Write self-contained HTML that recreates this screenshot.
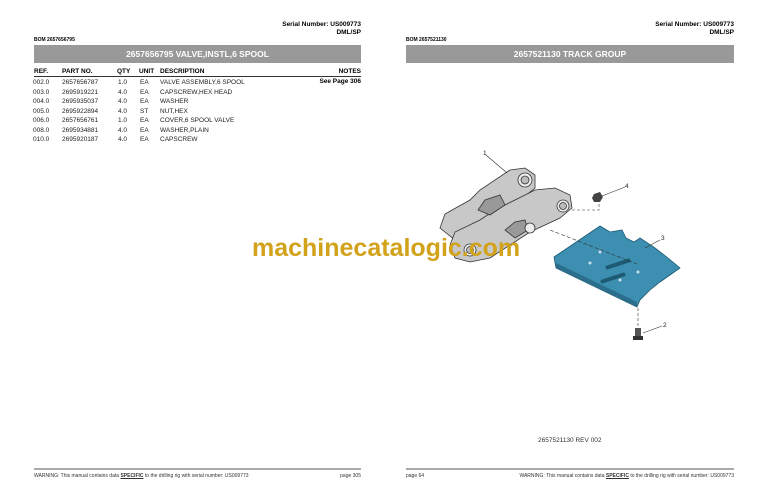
<!DOCTYPE html>
<html><head><style>
body{margin:0;width:768px;height:497px;background:#fff;position:relative;font-family:"Liberation Sans",sans-serif;color:#000;overflow:hidden}
.a{position:absolute;white-space:nowrap}
.bar{position:absolute;background:#999;color:#fff;font-weight:bold;font-size:8.5px;text-align:center;height:18px;line-height:18px;top:45px}
.t{font-size:6.5px}
.r td{font-size:6.5px;color:#222;padding:0;height:9.5px}
</style></head><body>
<div class="a" style="right:407px;top:21px;font-size:6.5px;font-weight:bold;text-align:right;line-height:8px">Serial Number: US009773<br>DML/SP</div>
<div class="a" style="left:34px;top:37px;font-size:5px;font-weight:bold">BOM 2657656795</div>
<div class="bar" style="left:34px;width:327px">2657656795 VALVE,INSTL,6 SPOOL</div>
<div class="a" style="left:34px;top:68px;width:327px;height:8px;border-bottom:1.5px solid #333"></div>
<div class="a t" style="left:34px;top:68px;font-weight:bold">REF.</div>
<div class="a t" style="left:62px;top:68px;font-weight:bold">PART NO.</div>
<div class="a t" style="left:117px;top:68px;font-weight:bold">QTY</div>
<div class="a t" style="left:139px;top:68px;font-weight:bold">UNIT</div>
<div class="a t" style="left:160px;top:68px;font-weight:bold">DESCRIPTION</div>
<div class="a t" style="right:407px;top:68px;font-weight:bold">NOTES</div>
<div class="a t" style="right:407px;top:78px;font-weight:bold">See Page 306</div>
<table class="a r" style="left:33px;top:78px;border-collapse:collapse">
<tr><td style="width:29px">002.0</td><td style="width:56px">2657656787</td><td style="width:22px">1.0</td><td style="width:20px">EA</td><td>VALVE ASSEMBLY,6 SPOOL</td></tr>
<tr><td>003.0</td><td>2695919221</td><td>4.0</td><td>EA</td><td>CAPSCREW,HEX HEAD</td></tr>
<tr><td>004.0</td><td>2695935037</td><td>4.0</td><td>EA</td><td>WASHER</td></tr>
<tr><td>005.0</td><td>2695922894</td><td>4.0</td><td>ST</td><td>NUT,HEX</td></tr>
<tr><td>006.0</td><td>2657656761</td><td>1.0</td><td>EA</td><td>COVER,6 SPOOL VALVE</td></tr>
<tr><td>008.0</td><td>2695934881</td><td>4.0</td><td>EA</td><td>WASHER,PLAIN</td></tr>
<tr><td>010.0</td><td>2695920187</td><td>4.0</td><td>EA</td><td>CAPSCREW</td></tr>
</table>

<div class="a" style="right:34px;top:21px;font-size:6.5px;font-weight:bold;text-align:right;line-height:8px">Serial Number: US009773<br>DML/SP</div>
<div class="a" style="left:406px;top:37px;font-size:5px;font-weight:bold">BOM 2657521130</div>
<div class="bar" style="left:406px;width:328px">2657521130 TRACK GROUP</div>

<svg class="a" style="left:0;top:0" width="768" height="497">
<g stroke="#333" stroke-width="0.8" fill="#c8c8c8">
<path d="M440,228 L445,214 L470,200 L480,190 L510,170 L525,168 L535,175 L535,188 L520,200 L500,210 L480,222 L470,235 L455,240 Z"/>
<path d="M450,245 L455,232 L480,220 L495,210 L535,190 L555,188 L570,195 L572,208 L560,218 L530,232 L510,245 L490,258 L470,262 L455,258 Z"/>
<path d="M478,210 L485,200 L500,195 L505,205 L490,215 Z" fill="#999"/>
<path d="M505,230 L515,222 L525,220 L528,230 L515,238 Z" fill="#999"/>
<circle cx="525" cy="180" r="7" fill="#eee"/><circle cx="525" cy="180" r="4" fill="#bbb"/>
<circle cx="563" cy="206" r="6" fill="#eee"/><circle cx="563" cy="206" r="3.5" fill="#bbb"/>
<circle cx="530" cy="228" r="5" fill="#eee"/>
<circle cx="470" cy="250" r="6" fill="#eee"/><circle cx="470" cy="250" r="3.5" fill="#bbb"/>
</g>
<polygon points="554,257 600,226 610,232 622,230 626,238 634,242 640,238 655,248 668,258 680,268 670,275 660,282 650,290 640,300 637,307 556,268" fill="#3c8fb0" stroke="#1e5a73" stroke-width="0.8"/>
<polygon points="556,263 637,302 637,307 556,268" fill="#2b6f8c"/>
<rect x="605" y="262" width="26" height="4" rx="2" fill="#1e5a73" transform="rotate(-18 618 264)"/>
<rect x="600" y="276" width="26" height="4" rx="2" fill="#1e5a73" transform="rotate(-18 613 278)"/>
<circle cx="600" cy="252" r="1.5" fill="#cde"/><circle cx="638" cy="272" r="1.5" fill="#cde"/><circle cx="590" cy="263" r="1.5" fill="#cde"/><circle cx="620" cy="280" r="1.5" fill="#cde"/>
<polygon points="594,194 600,192 603,197 600,202 594,202 592,198" fill="#444"/>
<rect x="635" y="328" width="6" height="10" fill="#555"/><rect x="633" y="336" width="10" height="4" fill="#333"/>
<g stroke="#333" stroke-width="0.6" fill="none">
<line x1="486" y1="155" x2="507" y2="173"/><line x1="625" y1="187" x2="602" y2="196"/>
<line x1="660" y1="240" x2="645" y2="248"/><line x1="662" y1="326" x2="643" y2="333"/>
<polyline points="572,210 599,210 599,202" stroke-dasharray="3,2"/>
<line x1="550" y1="230" x2="637" y2="264" stroke-dasharray="4,2"/>
<line x1="638" y1="308" x2="638" y2="327" stroke-dasharray="3,2"/>
</g>
<g font-size="6.5" fill="#222" font-family="Liberation Sans"><text x="483" y="155">1</text><text x="625" y="188">4</text><text x="661" y="240">3</text><text x="663" y="327">2</text></g>
<line x1="34" y1="469" x2="361" y2="469" stroke="#555" stroke-width="1"/>
<line x1="406" y1="469" x2="734" y2="469" stroke="#555" stroke-width="1"/>
</svg>
<div class="a" style="left:252px;top:234px;font-size:25px;font-weight:bold;color:#d2a21a">machinecatalogic.com</div>
<div class="a" style="left:538px;top:437px;font-size:6.5px;color:#333">2657521130 REV 002</div>
<div class="a" style="left:34px;top:473px;font-size:5px;color:#333">WARNING:  This manual contains data <b><u>SPECIFIC</u></b> to the drilling rig with serial number: US009773</div>
<div class="a" style="right:407px;top:473px;font-size:5px;color:#333">page 305</div>
<div class="a" style="left:406px;top:473px;font-size:5px;color:#333">page 64</div>
<div class="a" style="right:34px;top:473px;font-size:5px;color:#333">WARNING:  This manual contains data <b><u>SPECIFIC</u></b> to the drilling rig with serial number: US009773</div>
</body></html>
